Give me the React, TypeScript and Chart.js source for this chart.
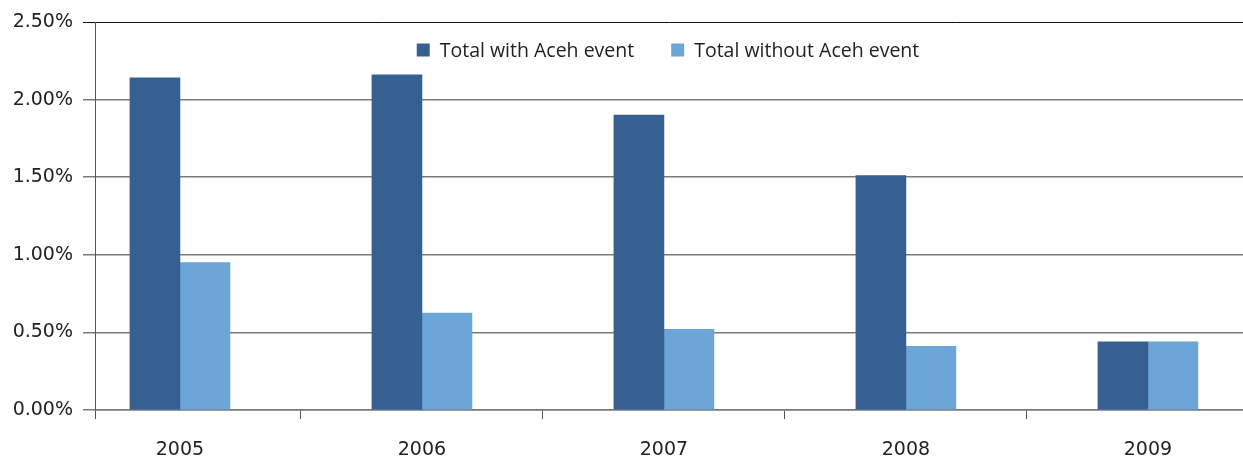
import { useEffect, useRef } from 'react';
import { Chart, registerables } from 'chart.js';

Chart.register(...registerables);

const years = [2005, 2006, 2007, 2008, 2009];
const withAceh = [2.14, 2.16, 1.9, 1.51, 0.44];
const withoutAceh = [0.95, 0.625, 0.52, 0.41, 0.44];
const seriesLabels = ['Total with Aceh event', 'Total without Aceh event'];
const seriesColors = ['#366092', '#6CA6D9'];
const yTickValues = [0, 0.5, 1, 1.5, 2, 2.5];

const FONT = '"Open Sans", "Noto Sans", sans-serif';
const TICK_FONT = '"DejaVu Sans", sans-serif';
const TEXT = '#222222';
const X_MIN = 2004.649;
const X_MAX = 2009.393;

const inlineLegend = {
  id: 'inlineLegend',
  afterDraw(chart: any) {
    const { ctx, chartArea } = chart;
    ctx.save();
    ctx.font = `19.5px ${FONT}`;
    const box = 13;
    const gapText = 10;
    const gapItem = 37;
    const items = chart.data.datasets.map((ds: any) => ({
      label: ds.label,
      color: ds.backgroundColor,
      w: ctx.measureText(ds.label).width,
    }));
    const total = items.reduce(
      (s: number, it: any, i: number) => s + box + gapText + it.w + (i ? gapItem : 0),
      0
    );
    let x = (chartArea.left + chartArea.right) / 2 - total / 2 - 1;
    const cy = chartArea.top + 28;
    ctx.textBaseline = 'middle';
    ctx.textAlign = 'left';
    items.forEach((it: any, i: number) => {
      if (i) x += gapItem;
      ctx.fillStyle = it.color;
      ctx.fillRect(x, cy - box / 2, box, box);
      x += box + gapText;
      ctx.fillStyle = TEXT;
      ctx.fillText(it.label, x, cy + 1);
      x += it.w;
    });
    ctx.restore();
  },
};

export default function App() {
  const ref = useRef<HTMLCanvasElement | null>(null);

  useEffect(() => {
    if (!ref.current) return;
    const chart = new Chart(ref.current, {
      type: 'bar',
      data: {
        datasets: [
          {
            label: seriesLabels[0],
            data: years.map((yr, i) => ({ x: yr, y: withAceh[i] })),
            backgroundColor: seriesColors[0],
            borderWidth: 0,
            barThickness: 50,
          },
          {
            label: seriesLabels[1],
            data: years.map((yr, i) => ({ x: yr, y: withoutAceh[i] })),
            backgroundColor: seriesColors[1],
            borderWidth: 0,
            barThickness: 50,
          },
        ],
      },
      options: {
        animation: false,
        responsive: false,
        devicePixelRatio: 1,
        layout: { padding: { top: 22, left: 0, right: 0, bottom: 0 } },
        plugins: {
          legend: { display: false },
          tooltip: { enabled: false },
        },
        scales: {
          x: {
            type: 'linear',
            offset: false,
            min: X_MIN,
            max: X_MAX,
            afterBuildTicks: (scale: any) => {
              const t: any[] = [{ value: X_MIN }];
              years.forEach((yr, i) => {
                t.push({ value: yr });
                if (i < years.length - 1) t.push({ value: yr + 0.5 });
              });
              scale.ticks = t;
            },
            afterFit: (scale: any) => {
              scale.height = 53;
            },
            grid: {
              offset: false,
              drawOnChartArea: false,
              drawTicks: true,
              tickLength: 9,
              color: (ctx: any) =>
                ctx.tick && Number.isInteger(ctx.tick.value) ? 'rgba(0,0,0,0)' : '#555555',
              lineWidth: 1,
            },
            border: { color: '#7a7a7a', width: 1.5 },
            ticks: {
              autoSkip: false,
              maxRotation: 0,
              padding: 20,
              color: TEXT,
              font: { family: TICK_FONT, size: 19 },
              callback: (v: any) => (Number.isInteger(v) ? String(v) : ''),
            },
          },
          y: {
            min: 0,
            max: 2.5,
            afterBuildTicks: (scale: any) => {
              scale.ticks = yTickValues.map((v) => ({ value: v }));
            },
            afterFit: (scale: any) => {
              scale.width = 95;
            },
            grid: {
              tickLength: 12,
              color: (ctx: any) =>
                ctx.tick && ctx.tick.value === 2.5 ? '#111111' : '#7a7a7a',
              lineWidth: (ctx: any) => (ctx.tick && ctx.tick.value === 2.5 ? 1 : 1.5),
            },
            border: { color: '#555555', width: 1 },
            ticks: {
              padding: 10,
              color: TEXT,
              font: { family: TICK_FONT, size: 19 },
              callback: (v: any) => Number(v).toFixed(2) + '%',
            },
          },
        },
      },
      plugins: [inlineLegend],
    });
    return () => chart.destroy();
  }, []);

  return (
    <div style={{ position: 'fixed', left: 0, top: 0, width: 1243, height: 463, background: '#fff' }}>
      <canvas ref={ref} width={1243} height={463} style={{ display: 'block' }} />
    </div>
  );
}
